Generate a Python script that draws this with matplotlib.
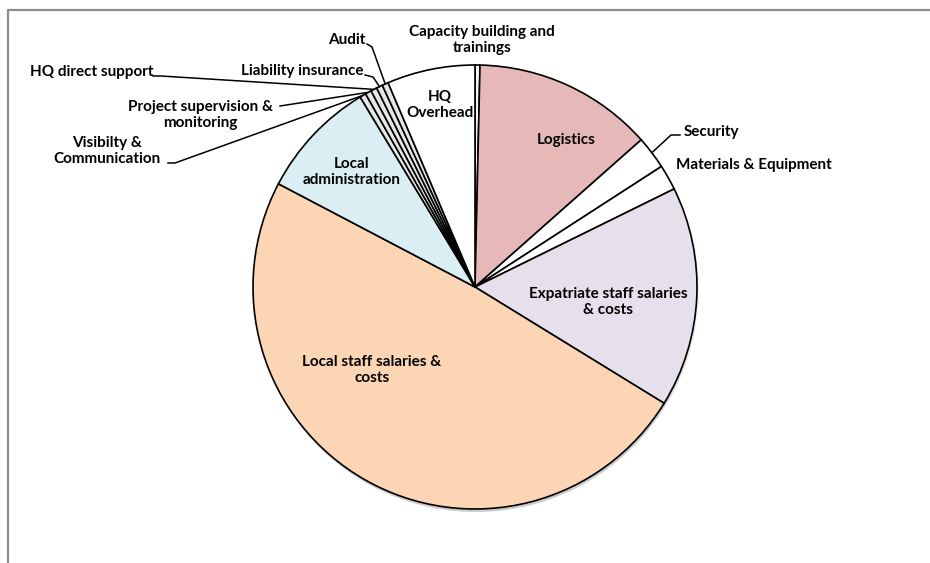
import matplotlib
matplotlib.use("Agg")
import matplotlib.pyplot as plt
from matplotlib.patches import Circle
import numpy as np

# budget shares (%) by cost line, clockwise from 12 o'clock
categories = [
    "Capacity building and\ntrainings",
    "Logistics",
    "Security",
    "Materials & Equipment",
    "Expatriate staff salaries\n& costs",
    "Local staff salaries &\ncosts",
    "Local\nadministration",
    "Visibilty &\nCommunication",
    "Project supervision &\nmonitoring",
    "HQ direct support",
    "Liability insurance",
    "Audit",
    "HQ\nOverhead",
]
shares = [0.36, 13.1, 2.4, 1.85, 16.05, 48.9, 8.65, 0.45, 0.45, 0.45, 0.45, 0.45, 6.4]
colors = ["#f4f4f4", "#e6b9b8", "#ffffff", "#ffffff", "#e5e0ec", "#fcd5b5", "#dbeef4",
          "#e6e6e6", "#e6e6e6", "#e6e6e6", "#e6e6e6", "#e6e6e6", "#ffffff"]

W, H = 930, 563
CX, CY, R = 475, 287, 222


def px(x, y):
    # pixel position (origin top-left) -> axes data units
    return x, H - y


fig = plt.figure(figsize=(W / 100, H / 100), dpi=100)
ax = fig.add_axes([0, 0, 1, 1])

# soft drop shadow under the pie
for i, a in enumerate([0.05, 0.07, 0.09]):
    ax.add_patch(Circle(px(CX + 1, CY + 2 + i), R + 1 - i, color="black", alpha=a, lw=0, zorder=0))

wedges, _ = ax.pie(shares, colors=colors, startangle=90, counterclock=False,
                   center=px(CX, CY), radius=R, frame=True,
                   wedgeprops=dict(edgecolor="black", linewidth=1.2))
ax.set_xlim(0, W)
ax.set_ylim(0, H)
ax.set_aspect("equal")
ax.axis("off")

font = dict(family=["Lato", "DejaVu Sans"], fontweight="bold", fontsize=11, color="black")

# labels drawn inside their slice
inside = {
    "Logistics": (566, 140),
    "Expatriate staff salaries\n& costs": (608, 302),
    "Local staff salaries &\ncosts": (372, 370),
    "Local\nadministration": (352, 172),
    "HQ\nOverhead": (440, 105),
    "Capacity building and\ntrainings": (482, 40),
}
for name, (x, y) in inside.items():
    ax.text(*px(x, y), name, ha="center", va="center", linespacing=1.2, **font)
ax.text(*px(676, 165), "Materials & Equipment", ha="left", va="center", **font)

# labels with leader lines: text position, anchor of line, elbow
outside = {
    "Security": ((684, 132), (680, 135), (671, 135)),
    "Audit": ((365, 40), (367, 44), (372, 47)),
    "Liability insurance": ((363, 71), (365, 75), (373, 77)),
    "HQ direct support": ((153, 72), (153, 76), (161, 76)),
    "Project supervision &\nmonitoring": ((200, 115), (280, 106), (280, 106)),
    "Visibilty &\nCommunication": ((107, 151), (168, 163), (175, 163)),
}
for w, name in zip(wedges, categories):
    if name not in outside:
        continue
    (tx, ty), (ax0, ay0), (ex, ey) = outside[name]
    mid = np.deg2rad((w.theta1 + w.theta2) / 2)
    x_edge = w.center[0] + w.r * np.cos(mid)
    y_edge = w.center[1] + w.r * np.sin(mid)
    ax.plot([ax0, ex, x_edge], [H - ay0, H - ey, y_edge], color="black", lw=1.1, zorder=5)
    if name == "Security":
        ax.text(*px(tx, ty), name, ha="left", va="center", **font)
    elif name in ("Audit", "Liability insurance", "HQ direct support"):
        ax.text(*px(tx, ty), name, ha="right", va="center", **font)
    else:
        ax.text(*px(tx, ty), name, ha="center", va="center", linespacing=1.2, **font)

# chart-area frame (top and left edges visible)
ax.plot([8, 8, W], [0, H - 9.5, H - 9.5], color="#8c8c8c", lw=1.6, zorder=6, clip_on=False)

fig.savefig("out.png", dpi=100)
